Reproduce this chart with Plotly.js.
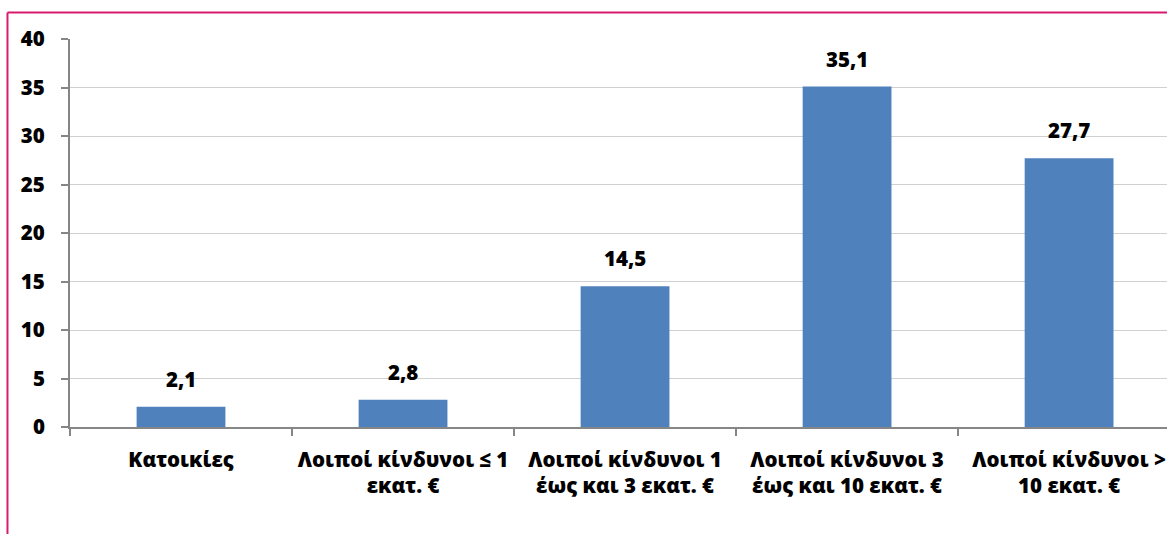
<!DOCTYPE html>
<html>
<head>
<meta charset="utf-8">
<script src="https://cdn.plot.ly/plotly-3.0.1.min.js"></script>
<style>
html,body{margin:0;padding:0;background:#fff;overflow:hidden;}
#chart{width:1167px;height:534px;}
</style>
</head>
<body>
<div id="chart"></div>
<script>
const categories = [
  "Κατοικίες",
  "Λοιποί κίνδυνοι ≤ 1<br>εκατ. €",
  "Λοιποί κίνδυνοι 1<br>έως και 3 εκατ. €",
  "Λοιποί κίνδυνοι 3<br>έως και 10 εκατ. €",
  "Λοιποί κίνδυνοι ><br>10 εκατ. €"
];
const values = [2.1, 2.8, 14.5, 35.1, 27.7];
const yTicks = [0, 5, 10, 15, 20, 25, 30, 35, 40];

const fam = "Open Sans, Noto Sans, sans-serif";
const boldFont = {family: fam, size: 20.5, color: "#000", weight: 800};

const trace = {
  type: "bar",
  x: categories,
  y: values,
  width: 0.4,
  marker: {color: "#4F81BD"},
  hoverinfo: "skip"
};

const annotations = categories.map((c, i) => ({
  x: c, y: values[i], xref: "x", yref: "y",
  text: values[i].toFixed(1).replace(".", ","),
  showarrow: false, yanchor: "bottom", yshift: 12,
  font: boldFont
}));

const layout = {
  width: 1167,
  height: 534,
  margin: {l: 70, r: 0, t: 39, b: 107},
  paper_bgcolor: "#fff",
  plot_bgcolor: "#fff",
  showlegend: false,
  font: boldFont,
  xaxis: {
    type: "category",
    range: [-0.5, 4.441],
    tickson: "boundaries",
    tickangle: 0,
    ticks: "outside",
    ticklen: 7,
    tickcolor: "#868686",
    tickwidth: 2,
    showline: true,
    linecolor: "#868686",
    linewidth: 2,
    showgrid: false,
    zeroline: false,
    ticklabelstandoff: 13,
    tickfont: boldFont,
    fixedrange: true
  },
  yaxis: {
    range: [0, 40],
    tickmode: "array",
    tickvals: yTicks,
    ticktext: yTicks.map(String),
    ticks: "outside",
    ticklen: 7,
    tickcolor: "#868686",
    tickwidth: 2,
    showline: true,
    linecolor: "#868686",
    linewidth: 2,
    showgrid: true,
    gridcolor: "#D0D0D0",
    gridwidth: 1,
    zeroline: false,
    ticklabelstandoff: 12,
    tickfont: boldFont,
    fixedrange: true
  },
  annotations: annotations,
  shapes: [
    {type: "line", xref: "paper", yref: "paper",
     x0: -0.057, x1: -0.057, y0: 1.0683, y1: -0.3,
     line: {color: "#D81B70", width: 2}},
    {type: "line", xref: "paper", yref: "paper",
     x0: -0.057, x1: 1.01, y0: 1.0683, y1: 1.0683,
     line: {color: "#D81B70", width: 2}}
  ]
};

Plotly.newPlot("chart", [trace], layout, {displayModeBar: false, staticPlot: true});
</script>
</body>
</html>
